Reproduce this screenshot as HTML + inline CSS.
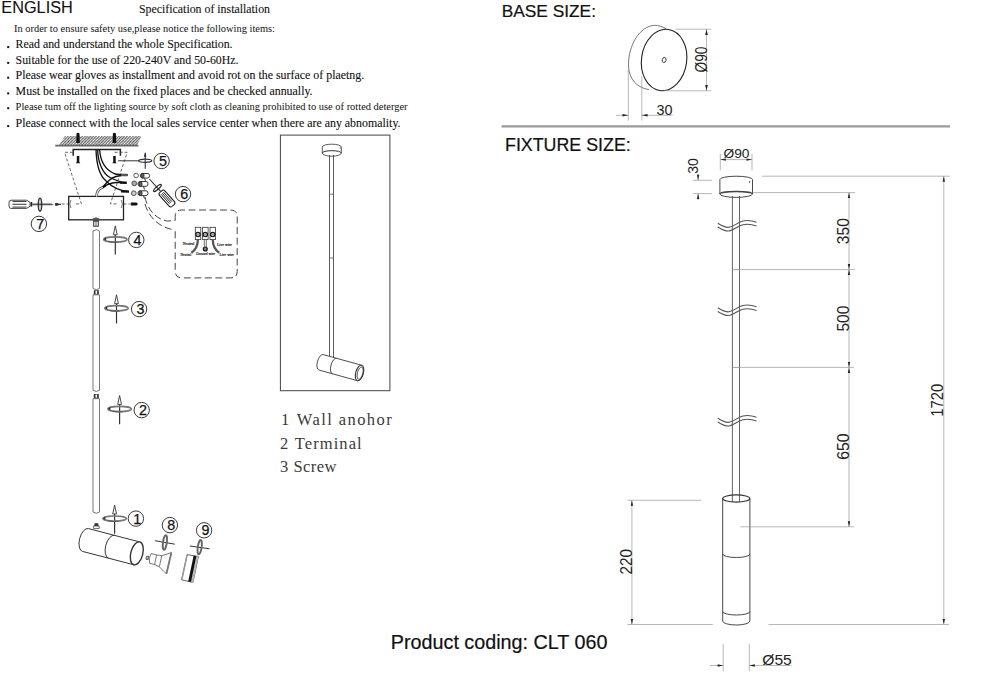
<!DOCTYPE html>
<html><head><meta charset="utf-8">
<style>
html,body{margin:0;padding:0;background:#fff;width:1000px;height:690px;overflow:hidden}
svg{display:block}
.s{font-family:"Liberation Sans",sans-serif}
.r{font-family:"Liberation Serif",serif}
.m{font-family:"Liberation Mono",monospace}
</style></head><body>
<svg width="1000" height="690" viewBox="0 0 1000 690">
<!-- TEXT LEFT -->
<g fill="#111" stroke="#111" stroke-width="0.1">
<text class="s" x="1.3" y="13.1" font-size="16.3" textLength="71.5" lengthAdjust="spacingAndGlyphs">ENGLISH</text>
<text class="r" x="139" y="13" font-size="11.9" textLength="131" lengthAdjust="spacingAndGlyphs">Specification of installation</text>
<text class="r" stroke="none" x="14" y="32" font-size="10.5" textLength="261" lengthAdjust="spacingAndGlyphs">In order to ensure safety use,please notice the following items:</text>
<text class="r" x="15.6" y="48.4" font-size="11.9" textLength="217" lengthAdjust="spacingAndGlyphs">Read and understand the whole Specification.</text>
<text class="r" x="15.6" y="64.2" font-size="11.9" textLength="223" lengthAdjust="spacingAndGlyphs">Suitable for the use of 220-240V and 50-60Hz.</text>
<text class="r" x="15.6" y="79.0" font-size="11.9" textLength="348.6" lengthAdjust="spacingAndGlyphs">Please wear gloves as installment and avoid rot on the surface of plaetng.</text>
<text class="r" x="15.6" y="94.7" font-size="11.9" textLength="297" lengthAdjust="spacingAndGlyphs">Must be installed on the fixed places and be checked annually.</text>
<text class="r" stroke="none" x="15.6" y="109.5" font-size="10.5" textLength="392" lengthAdjust="spacingAndGlyphs">Please tum off the lighting source by soft cloth as cleaning prohibited to use of rotted deterger</text>
<text class="r" x="15.6" y="127.4" font-size="11.9" textLength="385" lengthAdjust="spacingAndGlyphs">Please connect with the local sales service center when there are any abnomality.</text>
</g>
<g fill="#111">
<rect x="7.2" y="46.1" width="2" height="2"/>
<rect x="7.2" y="61.9" width="2" height="2"/>
<rect x="7.2" y="76.7" width="2" height="2"/>
<rect x="7.2" y="92.4" width="2" height="2"/>
<rect x="7.2" y="107.2" width="2" height="2"/>
<rect x="7.2" y="125.1" width="2" height="2"/>
</g>

<!-- LEFT DRAWING -->
<defs>
<pattern id="hatch" width="2" height="2" patternUnits="userSpaceOnUse" patternTransform="rotate(45)">
<rect width="2" height="2" fill="#fff"/>
<rect width="1" height="2" fill="#666"/>
<rect width="2" height="0.6" fill="#888"/>
</pattern>
<g id="rot">
<line x1="0" y1="-5" x2="0" y2="15.2" stroke="#333" stroke-width="1.2"/>
<path d="M0,-13.5 L-1.9,-4.6 L1.9,-4.6 Z" fill="#fff" stroke="#333" stroke-width="0.9"/>
<ellipse cx="0" cy="0" rx="11.7" ry="2.6" fill="none" stroke="#777" stroke-width="1.7"/>
<path d="M-7,2.2 Q-2,3.4 3,2.8" fill="none" stroke="#555" stroke-width="1"/>
<path d="M-11.7,-0.5 l2.2,-1.4 l0.6,3.6 Z" fill="#333"/>
</g>
<g id="circ">
<circle cx="0" cy="0" r="7.7" fill="#fff" stroke="#222" stroke-width="0.9"/>
</g>
</defs>
<!-- ceiling -->
<path d="M64.8,136 L141.3,136 L137.2,145.4 L58.8,145.4 Z" fill="url(#hatch)"/>
<line x1="55.2" y1="145.6" x2="138.4" y2="145.6" stroke="#666" stroke-width="1.6"/>
<!-- upper screws -->
<g fill="#111">
<path d="M76.5,133.5 Q78,132 79.5,133.5 L79.8,143 L76.2,143 Z"/>
<path d="M112.9,133.5 Q114.4,132 115.9,133.5 L116.2,143 L112.6,143 Z"/>
<path d="M76.8,156 L79.3,156 L79.3,162 L80.3,163.3 L75.8,163.3 L76.8,162 Z"/>
<path d="M113.2,156 L115.7,156 L115.7,162 L116.7,163.3 L112.2,163.3 L113.2,162 Z"/>
</g>
<!-- plate -->
<path d="M73.2,155.8 L73.2,149.6 L120.4,149.6 L120.4,155.8" fill="none" stroke="#222" stroke-width="1.5"/>
<g stroke="#444" stroke-width="0.8" stroke-dasharray="3,2" fill="none">
<path d="M73,152.3 L64.6,152.3 L81.4,203.9 L74,203.9"/>
<path d="M114.6,152.3 L127.2,152.3 L110.4,203.9 L118,203.9"/>
<line x1="61.6" y1="204" x2="68.7" y2="204"/>
<line x1="123.5" y1="204" x2="133" y2="204"/>
<line x1="62" y1="204" x2="62" y2="204"/>
</g>
<!-- box -->
<rect x="68.7" y="196.4" width="54.8" height="23.4" fill="none" stroke="#222" stroke-width="1.3"/>
<path d="M71,200 Q68.5,204 71,208" fill="none" stroke="#555" stroke-width="0.8"/>
<path d="M121.2,200 Q123.7,204 121.2,208" fill="none" stroke="#555" stroke-width="0.8"/>
<!-- side screws -->
<path d="M131,202.5 L136.5,202.5 L138,204 L136.5,205.5 L131,205.5 Z" fill="#111"/>
<!-- wires -->
<g fill="none" stroke="#111" stroke-width="1.35">
<path d="M99.6,149.8 C100.5,162 106,170 114,173.5 C118,175 122,175 127.4,175"/>
<path d="M97.6,149.8 C98,163 103,174 110,177.5 C115,180 120,182.5 126.6,182.8"/>
<path d="M96,149.8 C96.5,165 100,176 106,181 C111,186 118,191 129,191.6"/>
<path d="M102.7,187.2 C106,183 110,178 116,176.5 C120,175.5 124,175 127.4,175"/>
<path d="M102.7,187.2 C106,185 110,183 116,182.5 C120,182.5 124,182.8 126.6,182.8"/>
</g>
<g stroke="#111" stroke-width="2.4" fill="none">
<path d="M120,175 L127.4,175"/>
<path d="M120,182.6 L126.6,182.8"/>
<path d="M121,191.2 L129,191.6"/>
<path d="M102.5,187.5 L106,185"/>
</g>
<g stroke="#fff" stroke-width="0.6" fill="none">
<path d="M121,175 L127,175"/>
</g>
<path d="M96.6,196.4 C96.6,192 99,188.5 102.7,187.2" fill="none" stroke="#444" stroke-width="2.6"/>
<path d="M96.6,196.4 C96.6,192 99,188.5 102.7,187.2" fill="none" stroke="#fff" stroke-width="1.1"/>
<!-- terminal -->
<g fill="#fff" stroke="#333" stroke-width="0.8">
<circle cx="136.1" cy="175.5" r="2.3"/>
<circle cx="134.3" cy="183.4" r="2.4" fill="#aaa"/>
<circle cx="133.8" cy="193.2" r="2.4" fill="#ccc"/>
</g>
<g fill="none" stroke="#222" stroke-width="0.9">
<path d="M142,173.5 L148,173.5 A2,2.3 0 0 1 148,178 L142,178 A2,2.3 0 0 1 142,173.5 Z"/>
<ellipse cx="142.5" cy="175.8" rx="1.6" ry="2.2" fill="#666"/>
<path d="M140,181.5 L146,181.5 A2,2.4 0 0 1 146,186.3 L140,186.3 A2,2.4 0 0 1 140,181.5 Z"/>
<ellipse cx="140.5" cy="184" rx="1.6" ry="2.3" fill="#666"/>
<path d="M140,190.8 L146,190.8 A2,2.4 0 0 1 146,195.6 L140,195.6 A2,2.4 0 0 1 140,190.8 Z"/>
<ellipse cx="140.5" cy="193.2" rx="1.6" ry="2.3" fill="#666"/>
<path d="M144.5,178 L145.5,181" />
<path d="M143.5,186.3 L144.5,189.5" />
<path d="M143.5,195.6 L144.5,198.5" />
</g>
<!-- screw 5 line -->
<line x1="118.1" y1="160.8" x2="139" y2="160.8" stroke="#333" stroke-width="1"/>
<g transform="translate(145.2 160.8)">
<line x1="0" y1="-8" x2="0" y2="8" stroke="#222" stroke-width="1"/>
<path d="M0,-8.5 L-1.2,-4 L1.2,-4 Z" fill="#222"/>
<ellipse cx="0" cy="0" rx="6.5" ry="1.6" fill="none" stroke="#333" stroke-width="1.3"/>
</g>
<use href="#circ" x="161.6" y="161"/>
<!-- screwdriver 6 -->
<g transform="translate(149.4 179) rotate(48)">
<line x1="0" y1="0" x2="17" y2="0" stroke="#222" stroke-width="1"/>
<ellipse cx="12" cy="0" rx="1.4" ry="5" fill="none" stroke="#222" stroke-width="1.3"/>
<rect x="17" y="-3.5" width="18.5" height="7" rx="2.2" fill="#fff" stroke="#111" stroke-width="1"/>
<line x1="19" y1="-1.6" x2="32" y2="-1.6" stroke="#222" stroke-width="0.9"/>
<line x1="19" y1="0" x2="32" y2="0" stroke="#222" stroke-width="0.9"/>
<line x1="19" y1="1.6" x2="32" y2="1.6" stroke="#222" stroke-width="0.9"/>
</g>
<use href="#circ" x="183" y="194.1"/>
<!-- screwdriver 7 -->
<g>
<path d="M11,200.2 L26.5,200.2 L30,202.2 L30,206.4 L26.5,208.4 L11,208.4 Q9,208.4 9,206 L9,202.6 Q9,200.2 11,200.2 Z" fill="#fff" stroke="#333" stroke-width="0.9"/>
<line x1="12.5" y1="201.5" x2="26.5" y2="201.5" stroke="#444" stroke-width="1.1"/>
<line x1="12.5" y1="204.3" x2="26.5" y2="204.3" stroke="#444" stroke-width="1.1"/>
<line x1="12.5" y1="207.1" x2="26.5" y2="207.1" stroke="#444" stroke-width="1.1"/>
<rect x="30.6" y="202" width="1.6" height="4.6" fill="#222"/>
<path d="M32.2,203.6 L51,203.6 L54,204.4 L51,205.2 L32.2,205.2 Z" fill="#555"/>
<ellipse cx="40" cy="204.7" rx="1.6" ry="6.4" fill="none" stroke="#333" stroke-width="1.5"/>
</g>
<path d="M55.3,203 L58,203 L58.5,203.8 L61,203.8 L61,205 L58.5,205 L58,205.8 L55.3,205.8 Q54.5,204.4 55.3,203 Z" fill="#333"/>
<use href="#circ" x="38.9" y="223.9"/>
<!-- nut -->
<path d="M92.7,218.5 Q96,216.5 99.3,218.5 L99.3,221.2 L92.7,221.2 Z" fill="#555"/>
<rect x="93.7" y="221.2" width="4.6" height="5" fill="#fff" stroke="#333" stroke-width="1"/><line x1="96" y1="221.5" x2="96" y2="226" stroke="#555" stroke-width="1"/>
<!-- pole segments -->
<g fill="#fff" stroke="#777" stroke-width="1">
<path d="M93,288.5 L93,231 Q96.25,228.4 99.5,231 L99.5,288.5 Q96.25,290.8 93,288.5 Z"/>
<path d="M93,294.8 L99.5,294.8 L99.5,390.3 Q96.25,392.6 93,390.3 Z"/>
<path d="M93,398.7 L93,512 Q96.25,514.5 99.5,512 L99.5,398.7 Z"/>
</g>
<g fill="#333">
<rect x="93.8" y="290.2" width="5" height="4.2"/>
<rect x="93.8" y="394" width="5" height="4.2"/>
</g>
<g fill="#fff">
<rect x="95.5" y="290.8" width="1.6" height="3"/>
<rect x="95.5" y="394.6" width="1.6" height="3"/>
</g>
<use href="#rot" x="115.3" y="239.4"/>
<use href="#circ" x="136.3" y="239.9"/>
<use href="#rot" x="116.5" y="308.3"/>
<use href="#circ" x="139.1" y="309.1"/>
<use href="#rot" x="119.6" y="409"/>
<use href="#circ" x="141.7" y="410.1"/>
<use href="#rot" x="114.6" y="518.6"/>
<use href="#circ" x="135.9" y="518.6"/>
<!-- lamp head -->
<path d="M94.6,523.3 L98.2,523.3 L98.6,526 L94.2,526 Z" fill="#333"/>
<path d="M93.6,526 L99.2,526 L99.2,528.6 L93.6,528.6 Z" fill="#fff" stroke="#444" stroke-width="0.8"/>
<g transform="translate(85.5 540) rotate(14.6)" fill="none" stroke="#333" stroke-width="0.9">
<path d="M0,-11.8 A6,11.8 0 0 0 0,11.8"/>
<line x1="0" y1="-11.8" x2="53" y2="-11.8"/>
<line x1="0" y1="11.8" x2="53" y2="11.8"/>
<path d="M27,-11.8 A6,11.8 0 0 0 27,11.8"/>
<ellipse cx="53" cy="0" rx="6" ry="11.8" stroke-width="1.4" fill="#fff"/>
</g>
<!-- gu10 -->
<g fill="#fff" stroke="#555" stroke-width="0.8">
<path d="M151.1,553.6 L156.5,554.9 L161.8,555.7 L171.4,552.6 L166.4,573.9 L159.3,566.8 L154.7,564.5 L149.6,563.3 Q148.3,558.5 151.1,553.6 Z"/>
<line x1="156.5" y1="554.9" x2="154.7" y2="564.5"/>
<line x1="161.8" y1="555.7" x2="159.3" y2="566.8"/>
<path d="M146.2,556.4 L148.6,556 L148.4,559.6 L146,559.4 Z" fill="#aaa"/>
<line x1="171.4" y1="552.6" x2="166.4" y2="573.9" stroke="#777" stroke-width="1.8"/>
</g>
<!-- rotation 8 -->
<line x1="155.1" y1="540.7" x2="174.8" y2="544.2" stroke="#333" stroke-width="1"/>
<ellipse cx="164.9" cy="542.5" rx="1.9" ry="7.3" fill="none" stroke="#666" stroke-width="1.9" transform="rotate(8 164.9 542.5)"/>
<use href="#circ" x="169.9" y="525.1"/>
<!-- ring 9 -->
<path d="M187.1,554.6 L198.4,556.5 L193,582.4 L181.6,579.8 Z" fill="#fff" stroke="#555" stroke-width="0.9"/>
<line x1="187.1" y1="555" x2="181.9" y2="579.5" stroke="#999" stroke-width="1.4"/>
<path d="M196.2,556.1 L198.4,556.5 L193,582.4 L190.8,581.9 Z" fill="#bbb"/>
<path d="M193.6,555.7 L196.4,556.1 L191,582 L188.2,581.4 Z" fill="#111"/>
<line x1="189.9" y1="546" x2="209.6" y2="548.8" stroke="#333" stroke-width="1"/>
<ellipse cx="199.7" cy="547.1" rx="1.9" ry="7.3" fill="none" stroke="#666" stroke-width="1.9" transform="rotate(8 199.7 547.1)"/>
<use href="#circ" x="204.1" y="530.3"/>
<!-- zoom bubble -->
<path d="M175.2,220.4 L175.2,216.5 Q175.2,210 181.7,210 L230.7,210 Q237.2,210 237.2,216.5 L237.2,271.4 Q237.2,277.9 230.7,277.9 L181.7,277.9 Q175.2,277.9 175.2,271.4 L175.2,230" fill="none" stroke="#444" stroke-width="1" stroke-dasharray="7,3.5"/>
<path d="M145,197 C147,208 155,219 167.4,221.1 L175.2,220.4" fill="none" stroke="#444" stroke-width="1" stroke-dasharray="7,3.5"/>
<path d="M145,204 C149,218 160,228 175.2,230" fill="none" stroke="#444" stroke-width="1" stroke-dasharray="7,3.5"/>
<g fill="#fff" stroke="#333" stroke-width="0.8">
<rect x="195.3" y="227.3" width="5.5" height="12.3"/>
<rect x="202.6" y="227.3" width="5.5" height="12.3"/>
<rect x="210" y="227.3" width="5.5" height="12.3"/>
</g>
<g fill="#aaa" stroke="#111" stroke-width="1.1">
<circle cx="198" cy="234.5" r="2.2"/>
<circle cx="205.3" cy="234.5" r="2.2"/>
<circle cx="212.7" cy="234.5" r="2.2"/>
<circle cx="205.3" cy="249" r="2" fill="#777"/>
</g>
<g fill="none" stroke="#555" stroke-width="2.3">
<path d="M197.8,240 C197.8,246 196,249.5 191.4,252.8"/>
<path d="M212.8,240 C212.8,246 214.6,249.5 219.2,252.8"/>
</g>
<g fill="none" stroke="#333" stroke-width="0.7">
<path d="M204.3,239.6 L204.3,246.8 M206.3,239.6 L206.3,246.8"/>
</g>
<g font-family="Liberation Serif" font-size="3.9" fill="#111" stroke="#111" stroke-width="0.15">
<text x="182.8" y="245" textLength="11.4" lengthAdjust="spacingAndGlyphs">Neutral</text>
<text x="180.4" y="255.5" textLength="10.8" lengthAdjust="spacingAndGlyphs">Neutral</text>
<text x="196" y="255" textLength="19.2" lengthAdjust="spacingAndGlyphs">Ground wire</text>
<text x="217" y="245.5" textLength="15" lengthAdjust="spacingAndGlyphs">Live wire</text>
<text x="219.4" y="256.3" textLength="14.4" lengthAdjust="spacingAndGlyphs">Live wire</text>
</g>
<!-- circle digits -->
<g class="s" font-size="14.3" fill="#111" stroke="#111" stroke-width="0.25" text-anchor="middle">
<text x="162.9" y="166.1">5</text>
<text x="184.3" y="199.2">6</text>
<text x="40.2" y="229.0">7</text>
<text x="137.6" y="245.0">4</text>
<text x="140.4" y="314.2">3</text>
<text x="143.0" y="415.2">2</text>
<text x="137.2" y="523.7">1</text>
<text x="171.2" y="530.2">8</text>
<text x="205.4" y="535.4">9</text>
</g>
<!-- MIDDLE BOX -->
<rect x="280.4" y="135.1" width="109.5" height="255.6" fill="none" stroke="#444" stroke-width="1"/>

<!-- middle spotlight drawing -->
<g fill="none" stroke="#333" stroke-width="0.8">
<path d="M322.3,153 L322.3,147 A9.5,2.8 0 0 1 341.3,147 L341.3,153"/>
<path d="M322.3,153 A9.5,3.2 0 0 0 341.3,153"/>
<path d="M322.3,153 A9.5,2.3 0 0 1 341.3,153" stroke-width="1"/>
<circle cx="340.2" cy="148" r="0.6" fill="#222" stroke="none"/>
<line x1="329.5" y1="155" x2="329.5" y2="356"/>
<line x1="333.5" y1="155" x2="333.5" y2="357"/>
<line x1="329.5" y1="194.2" x2="333.5" y2="194.2" stroke="#555"/>
<line x1="329.5" y1="258" x2="333.5" y2="258" stroke="#555"/>
</g>
<g transform="translate(321 362.3) rotate(15.5)" fill="none" stroke="#333" stroke-width="0.8">
<path d="M0,-8 A3.6,8 0 0 0 0,8"/>
<line x1="0" y1="-8" x2="40" y2="-8"/>
<line x1="0" y1="8" x2="40" y2="8"/>
<path d="M14,-8 A3.6,8 0 0 0 14,8"/>
<ellipse cx="40" cy="0" rx="3.8" ry="8" stroke-width="1.1" fill="#fff"/>
<ellipse cx="40.6" cy="0" rx="2.7" ry="6.3" stroke-width="0.8"/>
</g>
<g fill="#3a3a3a">
<text class="r" x="281" y="424.7" font-size="16.5">1</text>
<text class="r" x="296.7" y="424.7" font-size="16.5" textLength="95" lengthAdjust="spacing">Wall anohor</text>
<text class="r" x="280" y="449.4" font-size="16.5">2</text>
<text class="r" x="294.7" y="449.4" font-size="16.5" textLength="67" lengthAdjust="spacing">Terminal</text>
<text class="r" x="280" y="472.2" font-size="16.5">3</text>
<text class="r" x="293.4" y="472.2" font-size="16.5" textLength="43" lengthAdjust="spacing">Screw</text>
</g>
<!-- RIGHT TITLES -->
<g fill="#111" stroke="#111" stroke-width="0.2">
<text class="s" x="501.7" y="16.9" font-size="17.3" textLength="94.3" lengthAdjust="spacingAndGlyphs">BASE SIZE:</text>
<text class="s" x="505" y="150.5" font-size="17.5" textLength="125.8" lengthAdjust="spacingAndGlyphs">FIXTURE SIZE:</text>
<text class="s" x="390.8" y="648.8" font-size="19.7" textLength="216.7" lengthAdjust="spacingAndGlyphs">Product coding: CLT 060</text>
</g>
<line x1="501.6" y1="126.3" x2="950" y2="126.3" stroke="#999" stroke-width="2.2"/>

<!-- BASE DRAWING -->
<g fill="none" stroke="#333" stroke-width="0.9">
<path d="M666,28.8 C662,26.5 658,25.3 654.7,25.3 C640,26 628,45 628.5,66 C629,79 637,88 649,89.6" stroke="#555" stroke-width="0.8"/>
<ellipse cx="664.1" cy="60" rx="22.6" ry="30.8" transform="rotate(8 664.1 60)" stroke="#222" stroke-width="1.1"/>
<ellipse cx="664.1" cy="60" rx="1.9" ry="2.6" stroke-width="0.9" transform="rotate(15 664.1 60)"/>
</g>
<g fill="none" stroke="#999" stroke-width="0.7">
<line x1="675.4" y1="29.2" x2="711.2" y2="29.2"/>
<line x1="664" y1="90.8" x2="711.2" y2="90.8"/>
<line x1="706.5" y1="29.2" x2="706.5" y2="90.8"/>
<line x1="628.3" y1="69.7" x2="628.3" y2="120.6"/>
<line x1="641.8" y1="76" x2="641.8" y2="120.6"/>
<line x1="616" y1="115.3" x2="628.3" y2="115.3"/>
<line x1="641.8" y1="115.3" x2="672.6" y2="115.3"/>
</g>
<g fill="#222">
<path d="M706.5,29.2 L705.2,35 L707.8,35 Z"/>
<path d="M706.5,90.8 L705.2,85 L707.8,85 Z"/>
<path d="M628.3,115.3 L622.5,114 L622.5,116.6 Z"/>
<path d="M641.8,115.3 L647.6,114 L647.6,116.6 Z"/>
<text class="s" font-size="15.8" x="0" y="0" transform="translate(706.8 72.5) rotate(-90)" textLength="26" lengthAdjust="spacingAndGlyphs">&#216;90</text>
<text class="s" font-size="14" x="656.5" y="115" textLength="16" lengthAdjust="spacingAndGlyphs">30</text>
</g>
<!-- FIXTURE DRAWING -->
<g fill="none" stroke="#333" stroke-width="0.9">
<!-- canopy -->
<path d="M719.9,194 L719.9,179.5 A16.3,3.3 0 0 1 752.5,179.5 L752.5,194"/>
<path d="M719.9,194 A16.3,3.4 0 0 0 752.5,194"/>
<path d="M719.9,194 A16.3,2.6 0 0 1 752.5,194" stroke-width="1.5" stroke="#444"/>
<circle cx="749.6" cy="182" r="0.7" fill="#222" stroke="none"/>
<!-- pole -->
<line x1="732.4" y1="196" x2="732.4" y2="501.8" stroke="#555"/>
<line x1="739.5" y1="196" x2="739.5" y2="501.8" stroke="#555"/>
<line x1="732.4" y1="269.6" x2="739.5" y2="269.6" stroke="#999"/>
<line x1="732.4" y1="367.4" x2="739.5" y2="367.4" stroke="#999"/>
<!-- body -->
<ellipse cx="736.3" cy="498.5" rx="13.6" ry="3.6" stroke-width="1.1"/>
<path d="M722.7,498.5 L722.7,621 A13.6,4 0 0 0 749.9,621 L749.9,498.5"/>
<path d="M722.7,554 A13.6,3.5 0 0 0 749.9,554"/>
<path d="M722.7,611.5 A13.6,3.5 0 0 0 749.9,611.5"/>
</g>
<g fill="none" stroke="#555" stroke-width="1.1">
<path id="wv1" d="M717.8,223.2 C721.5,225.5 725,227.8 729,227.3 C734,226.6 738,222 743,221 C748,220 753,221 756.5,222.3"/>
<path d="M717.8,226.9 C721.5,229.2 725,231.5 729,231 C734,230.3 738,225.7 743,224.7 C748,223.7 753,224.7 756.5,226"/>
<use href="#wv1" y="84.5"/><use href="#wv1" y="88.2"/>
<use href="#wv1" y="195"/><use href="#wv1" y="198.7"/>
</g>
<g fill="none" stroke="#999" stroke-width="0.7">
<!-- phi90 -->
<line x1="720.3" y1="153.8" x2="720.3" y2="170.4"/>
<line x1="752" y1="153.8" x2="752" y2="170.4"/>
<line x1="720.3" y1="159.6" x2="752" y2="159.6"/>
<!-- 30 -->
<line x1="693" y1="180.3" x2="712" y2="180.3"/>
<line x1="693" y1="193.6" x2="712" y2="193.6"/>
<line x1="698.1" y1="174" x2="698.1" y2="180.3"/>
<line x1="698.1" y1="193.6" x2="698.1" y2="200"/>
<!-- ext lines right -->
<line x1="762" y1="176.2" x2="950" y2="176.2"/>
<line x1="752.5" y1="192.6" x2="855" y2="192.6"/>
<line x1="739.5" y1="269.6" x2="855" y2="269.6"/>
<line x1="739.7" y1="367.4" x2="854" y2="367.4"/>
<line x1="740.5" y1="526.8" x2="854" y2="526.8"/>
<line x1="849" y1="192.6" x2="849" y2="526.8"/>
<line x1="943.8" y1="176.2" x2="943.8" y2="623.5"/>
<line x1="768.4" y1="624.5" x2="949" y2="624.5"/>
<!-- 220 -->
<line x1="627.5" y1="500.3" x2="701.4" y2="500.3"/>
<line x1="627.5" y1="624.5" x2="712.8" y2="624.5"/>
<line x1="631.9" y1="500.3" x2="631.9" y2="624.5"/>
<!-- 55 -->
<line x1="723.2" y1="643.8" x2="723.2" y2="671.3"/>
<line x1="749.3" y1="643.8" x2="749.3" y2="671.3"/>
<line x1="710" y1="665.5" x2="723.2" y2="665.5"/>
<line x1="749.3" y1="665.5" x2="791.5" y2="665.5"/>
</g>
<g fill="#222">
<path d="M720.3,159.6 l5.5,-1.2 l0,2.4 Z"/>
<path d="M752,159.6 l-5.5,-1.2 l0,2.4 Z"/>
<path d="M698.1,180.3 l-1.2,-5.5 l2.4,0 Z"/>
<path d="M698.1,193.6 l-1.2,5.5 l2.4,0 Z"/>
<path d="M849,192.6 l-1.2,5.5 l2.4,0 Z"/>
<path d="M849,269.6 l-1.2,-5.5 l2.4,0 Z"/>
<path d="M849,269.6 l-1.2,5.5 l2.4,0 Z"/>
<path d="M849,367.4 l-1.2,-5.5 l2.4,0 Z"/>
<path d="M849,367.4 l-1.2,5.5 l2.4,0 Z"/>
<path d="M849,526.8 l-1.2,-5.5 l2.4,0 Z"/>
<path d="M943.8,176.2 l-1.2,5.5 l2.4,0 Z"/>
<path d="M943.8,624.5 l-1.2,-5.5 l2.4,0 Z"/>
<path d="M631.9,500.3 l-1.2,5.5 l2.4,0 Z"/>
<path d="M631.9,624.5 l-1.2,-5.5 l2.4,0 Z"/>
<path d="M723.2,665.5 l-5.5,-1.2 l0,2.4 Z"/>
<path d="M749.3,665.5 l5.5,-1.2 l0,2.4 Z"/>
<text class="s" font-size="13.5" x="723.5" y="158.2" textLength="26" lengthAdjust="spacingAndGlyphs">&#216;90</text>
<text class="s" font-size="14" transform="translate(698.3 173.8) rotate(-90)" textLength="15.6" lengthAdjust="spacingAndGlyphs">30</text>
<text class="s" font-size="16.3" transform="translate(848.8 244.2) rotate(-90)" textLength="26" lengthAdjust="spacingAndGlyphs">350</text>
<text class="s" font-size="16.3" transform="translate(848.8 331.6) rotate(-90)" textLength="26" lengthAdjust="spacingAndGlyphs">500</text>
<text class="s" font-size="16.3" transform="translate(848.8 459.8) rotate(-90)" textLength="26.4" lengthAdjust="spacingAndGlyphs">650</text>
<text class="s" font-size="15.8" transform="translate(943.2 416.8) rotate(-90)" textLength="33" lengthAdjust="spacingAndGlyphs">1720</text>
<text class="s" font-size="16.3" transform="translate(632 574.6) rotate(-90)" textLength="25.5" lengthAdjust="spacingAndGlyphs">220</text>
<text class="s" font-size="15.2" x="762.3" y="664.6" textLength="29.5" lengthAdjust="spacingAndGlyphs">&#216;55</text>
</g>
</svg>
</body></html>
